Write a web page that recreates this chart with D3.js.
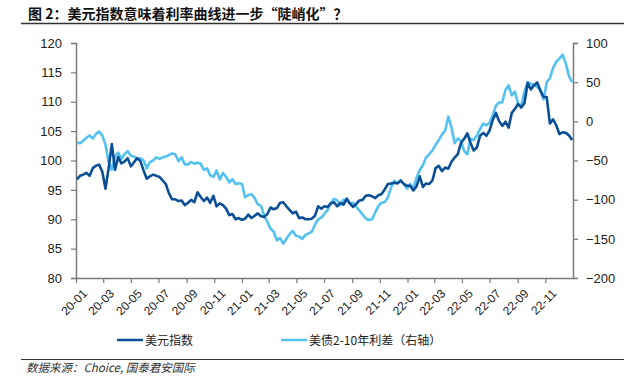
<!DOCTYPE html>
<html>
<head>
<meta charset="utf-8">
<script src="https://cdn.jsdelivr.net/npm/d3@7"></script>
<style>
  body { margin: 0; background: #fff; }
  svg text { font-family: "Liberation Sans", Arial, sans-serif; }
  .cjk { font-family: "Noto Sans CJK SC", "Noto Sans", sans-serif; }
</style>
</head>
<body>
<div id="chart"></div>
<script>
// title, legend, source
const titleText = '图 2：美元指数意味着利率曲线进一步“陡峭化”？';
const sourceText = '数据来源：Choice, 国泰君安国际';
const seriesNames = ['美元指数', '美债2-10年利差（右轴）'];

// axes
const xTickLabels = ['20-01', '20-03', '20-05', '20-07', '20-09', '20-11',
  '21-01', '21-03', '21-05', '21-07', '21-09', '21-11',
  '22-01', '22-03', '22-05', '22-07', '22-09', '22-11'];
const leftTicks = [80, 85, 90, 95, 100, 105, 110, 115, 120];
const rightTicks = [-200, -150, -100, -50, 0, 50, 100];

// weekly (Fridays) 2020-01-03 .. 2022-12-30
const dxy = [
  96.8, 97.4, 97.6, 97.9, 97.4, 98.7, 99.1, 99.3, 98.1, 95.2, 98.7, 102.8, 98.4,
  100.6, 99.5, 99.8, 100.4, 99.0, 99.7, 100.4, 99.9, 98.3, 96.9, 97.3, 97.6, 97.4,
  97.2, 96.6, 96.0, 94.4, 93.4, 93.4, 93.1, 93.2, 92.4, 92.8, 93.3, 92.9, 94.6,
  93.8, 93.1, 93.7, 92.8, 94.0, 92.2, 92.7, 92.4, 91.8, 90.7, 90.9, 90.0, 90.2,
  // 2021
  89.9, 90.1, 90.8, 90.2, 90.6, 91.0, 90.5, 90.4, 90.9, 92.0, 91.7, 91.9, 92.8,
  92.9, 92.2, 91.6, 91.0, 91.3, 90.2, 90.3, 90.0, 90.0, 90.1, 90.6, 92.2, 91.8,
  92.2, 92.1, 92.7, 92.9, 92.2, 92.8, 92.5, 93.5, 92.7, 92.1, 92.6, 93.2, 93.3,
  94.0, 94.1, 93.9, 93.6, 94.1, 94.3, 95.1, 96.0, 96.1, 96.2, 96.1, 96.6, 96.0, 95.7,
  // 2022
  95.7, 94.9, 95.6, 97.3, 95.5, 96.1, 96.0, 96.6, 98.7, 99.1, 98.2, 98.8,
  98.6, 99.8, 100.5, 101.1, 103.0, 103.7, 104.6, 103.0, 101.7, 102.2, 104.2, 104.7, 104.2,
  105.1, 106.9, 108.1, 106.7, 105.9, 106.6, 105.6, 108.1, 108.8,
  109.6, 109.0, 109.8, 113.2, 112.1, 112.8, 113.3, 111.9, 110.8,
  110.8, 106.3, 107.0, 106.0, 104.5, 104.8, 104.7, 104.3, 103.5
];

const spread = [
  -27, -28, -25, -21, -18, -22, -16, -13, -18, -30, -52, -62, -45,
  -40, -48, -42, -38, -44, -45, -48, -47, -50, -60, -52, -50, -46,
  -48, -46, -45, -43, -41, -42, -51, -46, -55, -55, -52, -54, -53,
  -54, -62, -60, -69, -71, -63, -74, -66, -71, -78, -74, -80, -79,
  // 2021
  -80, -97, -94, -93, -98, -106, -108, -121, -128, -137, -141, -152, -149,
  -156, -150, -144, -140, -146, -147, -150, -145, -143, -141, -132, -125, -123,
  -118, -113, -104, -99, -101, -107, -100, -101, -105, -104, -109, -114, -119,
  -124, -126, -125, -116, -108, -104, -103, -97, -84, -76, -79, -76, -80, -86,
  // 2022
  -80, -86, -72, -62, -56, -46, -42, -37, -30, -24, -17, -12,
  6, -8, -28, -22, -25, -38, -42, -22, -24, -18, -10, -3, -5,
  -2, 8, 20, 24, 24, 40, 46, 33, 38,
  22, 20, 38, 50, 48, 46, 44, 40, 28,
  50, 55, 68, 76, 80, 85, 74, 58, 50
];

const dates = d3.timeFriday.range(new Date(2020, 0, 3), new Date(2022, 11, 31));

const width = 624, height = 376;
const plotLeft = 76, plotRight = 573, plotTop = 43, plotBottom = 278;
const darkBlue = '#0b4f97', lightBlue = '#53c2f0';
const axisGrey = '#7a7a7a';

const svg = d3.select('#chart').append('svg')
  .attr('width', width)
  .attr('height', height);

// title + rule
svg.append('text')
  .attr('class', 'cjk')
  .attr('x', 28).attr('y', 19)
  .style('font-size', '14px')
  .style('font-weight', 'bold')
  .style('fill', '#111')
  .text(titleText);

svg.append('line')
  .attr('x1', 21).attr('x2', width)
  .attr('y1', 23.5).attr('y2', 23.5)
  .style('stroke', '#333').style('stroke-width', 1.5);

// scales
const x = d3.scaleTime()
  .domain([new Date(2020, 0, 1), new Date(2023, 0, 1)])
  .range([plotLeft, plotRight]);
const yL = d3.scaleLinear().domain([80, 120]).range([plotBottom, plotTop]);
const yR = d3.scaleLinear().domain([-200, 100]).range([plotBottom, plotTop]);

const parseTick = d3.timeParse('%y-%m');
const fmtTick = d3.timeFormat('%y-%m');

// axes
const gL = svg.append('g')
  .attr('transform', `translate(${plotLeft},0)`)
  .call(d3.axisLeft(yL).tickValues(leftTicks).tickSize(5).tickPadding(9));
const gR = svg.append('g')
  .attr('transform', `translate(${plotRight},0)`)
  .call(d3.axisRight(yR).tickValues(rightTicks).tickSize(5).tickPadding(8));
const gX = svg.append('g')
  .attr('transform', `translate(0,${plotBottom})`)
  .call(d3.axisBottom(x).tickValues(xTickLabels.map(parseTick))
    .tickFormat(fmtTick).tickSize(5).tickSizeOuter(0).tickPadding(4));

[gL, gR, gX].forEach(g => {
  g.select('.domain').style('stroke', axisGrey).style('stroke-width', 1.5);
  g.selectAll('.tick line').style('stroke', axisGrey).style('stroke-width', 1.2);
  g.selectAll('.tick text').style('fill', '#222').style('font-size', '13px')
    .style('font-family', '"Liberation Sans", Arial, sans-serif');
});

gX.selectAll('.tick text')
  .style('font-size', '12px')
  .attr('text-anchor', 'end')
  .attr('dy', null)
  .attr('transform', 'translate(5,10) rotate(-45)');

// lines
const lineL = d3.line()
  .x((d, i) => x(dates[i]))
  .y(d => yL(d));
const lineR = d3.line()
  .x((d, i) => x(dates[i]))
  .y(d => yR(d));

svg.append('path')
  .datum(spread)
  .attr('d', lineR)
  .style('fill', 'none')
  .style('stroke', lightBlue)
  .style('stroke-width', 2.6)
  .style('stroke-linejoin', 'round');

svg.append('path')
  .datum(dxy)
  .attr('d', lineL)
  .style('fill', 'none')
  .style('stroke', darkBlue)
  .style('stroke-width', 2.6)
  .style('stroke-linejoin', 'round');

// legend
const legend = svg.append('g');
const legendItems = [
  { name: seriesNames[0], color: darkBlue, x: 117 },
  { name: seriesNames[1], color: lightBlue, x: 281 }
];
legendItems.forEach(item => {
  legend.append('line')
    .attr('x1', item.x).attr('x2', item.x + 26)
    .attr('y1', 340).attr('y2', 340)
    .style('stroke', item.color).style('stroke-width', 2.5);
  legend.append('text')
    .attr('class', 'cjk')
    .attr('x', item.x + 28).attr('y', 344.5)
    .style('font-size', '12px')
    .style('fill', '#222')
    .text(item.name);
});

// bottom rule + source
svg.append('line')
  .attr('x1', 21).attr('x2', width)
  .attr('y1', 359.5).attr('y2', 359.5)
  .style('stroke', '#333').style('stroke-width', 1.2);

svg.append('text')
  .attr('class', 'cjk')
  .attr('x', 26).attr('y', 372)
  .style('font-size', '11.5px')
  .style('font-style', 'italic')
  .style('fill', '#333')
  .text(sourceText);
</script>
</body>
</html>
